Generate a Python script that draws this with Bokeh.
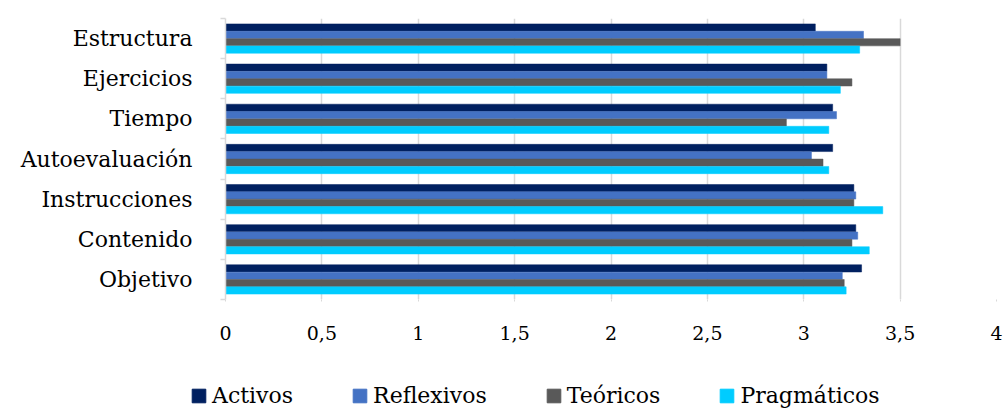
from bokeh.plotting import figure
from bokeh.layouts import column
from bokeh.models import FixedTicker, Legend, LegendItem, ColumnDataSource
from bokeh.embed import file_html
from bokeh.resources import INLINE

categories = ["Estructura", "Ejercicios", "Tiempo", "Autoevaluación",
              "Instrucciones", "Contenido", "Objetivo"]
series = ["Activos", "Reflexivos", "Teóricos", "Pragmáticos"]
activos = [3.06, 3.12, 3.15, 3.15, 3.26, 3.27, 3.30]
reflexivos = [3.31, 3.12, 3.17, 3.04, 3.27, 3.28, 3.20]
teoricos = [3.50, 3.25, 2.91, 3.10, 3.26, 3.25, 3.21]
pragmaticos = [3.29, 3.19, 3.13, 3.13, 3.41, 3.34, 3.22]
x_ticks = [0, 0.5, 1, 1.5, 2, 2.5, 3, 3.5, 4]
x_tick_labels = ["0", "0,5", "1", "1,5", "2", "2,5", "3", "3,5", "4"]
colors = ["#002060", "#4472C4", "#595959", "#00CCFF"]

FONT = "DejaVu Serif"
n = len(categories)
centers = [n - 0.5 - i for i in range(n)]
vals = [activos, reflexivos, teoricos, pragmaticos]
offsets = [0.275, 0.0917, -0.0917, -0.275]

p = figure(frame_width=771, frame_height=281, x_range=(0, 4), y_range=(0, n),
           output_backend="svg", toolbar_location=None,
           min_border_left=225, min_border_top=18, min_border_right=8,
           min_border_bottom=54)
p.outline_line_color = None
p.background_fill_color = "white"
p.border_fill_color = "white"

sources = []
for s, v, c, off in zip(series, vals, colors, offsets):
    src = ColumnDataSource(dict(y=[cy + off for cy in centers], right=v))
    sources.append(src)
    p.hbar(y="y", left=0, right="right", height=0.18, source=src,
           fill_color=c, line_color=c, line_width=0.5)

# x axis
p.xaxis.ticker = FixedTicker(ticks=x_ticks)
p.xaxis.major_label_overrides = {t: l for t, l in zip(x_ticks, x_tick_labels)}
p.xaxis.axis_line_color = None
p.xaxis.major_tick_line_color = "#d9d9d9"
p.xaxis.major_tick_out = 2
p.xaxis.major_tick_in = 0
p.xaxis.minor_tick_line_color = None
p.xaxis.major_label_standoff = 24
p.xaxis.major_label_text_font = FONT
p.xaxis.major_label_text_font_size = "19px"
p.xaxis.major_label_text_color = "#000000"

# y axis
p.yaxis.ticker = FixedTicker(ticks=centers, minor_ticks=list(range(n + 1)))
p.yaxis.major_label_overrides = {cy: c for cy, c in zip(centers, categories)}
p.yaxis.axis_line_color = "#d9d9d9"
p.yaxis.axis_line_width = 1.5
p.yaxis.major_tick_line_color = None
p.yaxis.major_tick_out = 0
p.yaxis.major_tick_in = 0
p.yaxis.minor_tick_line_color = "#d9d9d9"
p.yaxis.minor_tick_line_width = 1.5
p.yaxis.minor_tick_out = 5
p.yaxis.minor_tick_in = 0
p.yaxis.major_label_standoff = 28
p.yaxis.major_label_text_font = FONT
p.yaxis.major_label_text_font_size = "22px"
p.yaxis.major_label_text_color = "#000000"

p.xgrid.ticker = FixedTicker(ticks=x_ticks)
p.xgrid.grid_line_color = "#d9d9d9"
p.xgrid.grid_line_width = 1.5
p.ygrid.grid_line_color = None

# legend strip: hidden copies of the series, only their legend swatches show
lf = figure(width=1004, height=56, x_range=(0, 1), y_range=(0, 1),
            output_backend="svg", toolbar_location=None,
            x_axis_location=None, y_axis_location=None,
            min_border=0)
try:
    lf.frame_align = False
except Exception:
    pass
lf.outline_line_color = None
lf.xgrid.grid_line_color = None
lf.ygrid.grid_line_color = None
lf.background_fill_color = "white"
lf.border_fill_color = "white"
items = []
for s, c, src in zip(series, colors, sources):
    r = lf.hbar(y="y", left=0, right="right", height=0.18, source=src,
                fill_color=c, line_color=c, visible=False)
    items.append(LegendItem(label=s, renderers=[r]))
legend = Legend(items=items, orientation="horizontal", location=(190, 1),
                label_text_font=FONT, label_text_font_size="22px",
                label_text_color="#000000",
                glyph_width=17, glyph_height=17, label_standoff=5,
                spacing=58, border_line_color=None, padding=0, margin=0,
                background_fill_alpha=0, inactive_fill_alpha=0)
lf.add_layout(legend, "center")

layout = column(p, lf)
open("out.html", "w").write(file_html(layout, INLINE))
